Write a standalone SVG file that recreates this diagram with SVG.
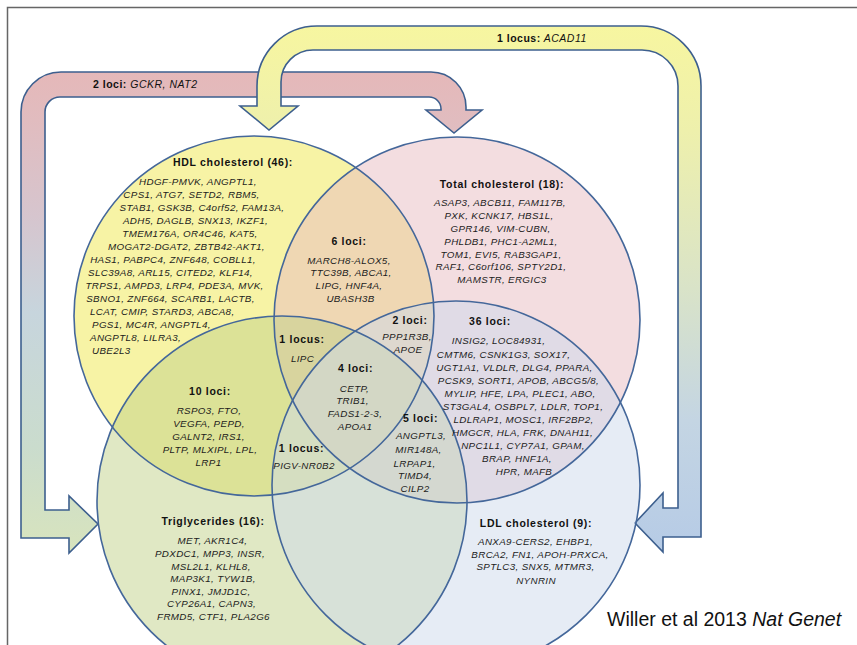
<svg xmlns="http://www.w3.org/2000/svg" width="857" height="645" viewBox="0 0 857 645">
<defs>
<linearGradient id="gPink" gradientUnits="userSpaceOnUse" x1="0" y1="72" x2="0" y2="553">
<stop offset="0" stop-color="#e5b8b9"/>
<stop offset="0.1" stop-color="#e1bcbf"/>
<stop offset="0.3" stop-color="#d6c5ce"/>
<stop offset="0.5" stop-color="#c7d5dd"/>
<stop offset="0.78" stop-color="#cadccd"/>
<stop offset="1" stop-color="#d8e4bd"/>
</linearGradient>
<linearGradient id="gYellow" gradientUnits="userSpaceOnUse" x1="0" y1="26" x2="0" y2="552">
<stop offset="0" stop-color="#f7f6a0"/>
<stop offset="0.2" stop-color="#eef0ac"/>
<stop offset="0.5" stop-color="#d9e3c8"/>
<stop offset="0.75" stop-color="#c4d5e3"/>
<stop offset="1" stop-color="#b6cbe6"/>
</linearGradient>
<style>
.arrow { stroke: #3d5f8e; stroke-width: 1.6; stroke-linejoin: miter; }
.fill { fill-opacity: 0.5; stroke: none; }
.outline { fill: none; stroke: #44679a; stroke-width: 1.6; }
.t { font-family: "Liberation Sans", Arial, sans-serif; font-weight: bold; font-size: 10.5px; letter-spacing: 0.7px; text-anchor: middle; fill: #111; }
.g { font-family: "Liberation Sans", Arial, sans-serif; font-style: italic; font-size: 9.8px; letter-spacing: 0.35px; text-anchor: middle; fill: #1c1c1c; }
.gs { text-anchor: start; }
.al { font-family: "Liberation Sans", Arial, sans-serif; font-size: 10.5px; letter-spacing: 0.5px; fill: #111; }
.b { font-weight: bold; }
.i { font-style: italic; }
</style>
</defs>
<rect x="0" y="0" width="857" height="645" fill="#ffffff"/>
<path d="M 7.5,645 V 7.5 H 857" fill="none" stroke="#666" stroke-width="1.5"/>

<g id="connectors">
<g id="arrow-gckr-nat2">
<path class="arrow" fill="url(#gPink)" d="M 21,538 L 69,538 L 69,553 L 98,524 L 69,496 L 69,510 L 45,510 L 45,112 A 15 15 0 0 1 60,97 L 429,97 A 12 12 0 0 1 441,109 L 441,110 L 426,110 L 454,133 L 482,110 L 466,110 L 466,107 A 35 35 0 0 0 431,72 L 61,72 A 40 40 0 0 0 21,112 Z"/>
<text class="al" x="93" y="88"><tspan class="b">2 loci:</tspan><tspan class="i"> GCKR, NAT2</tspan></text>
</g>
<g id="arrow-acad11">
<path class="arrow" fill="url(#gYellow)" d="M 701,537 L 663,537 L 663,552 L 635,523 L 663,493 L 663,508 L 678,508 L 678,86 A 36 36 0 0 0 642,50 L 313,50 A 32 32 0 0 0 281,82 L 281,106 L 298,106 L 269,130 L 240,106 L 257,106 L 257,86 A 60 60 0 0 1 317,26 L 641,26 A 60 60 0 0 1 701,86 Z"/>
<text class="al" x="497" y="42"><tspan class="b">1 locus:</tspan><tspan class="i"> ACAD11</tspan></text>
</g>
</g>

<g id="venn-fills">
<circle class="fill" cx="254" cy="316" r="180" fill="#efe74b"/>
<circle class="fill" cx="457" cy="320" r="183" fill="#e7bbc1"/>
<circle class="fill" cx="282" cy="501" r="185" fill="#c1d189"/>
<circle class="fill" cx="456" cy="485" r="184" fill="#cdd9eb"/>
</g>

<g id="node-hdl">
<circle class="outline" cx="254" cy="316" r="180"/>
<text class="t" x="233" y="166">HDL cholesterol (46):</text>
<text class="g" x="198" y="185">HDGF-PMVK, ANGPTL1,</text>
<text class="g" x="191.5" y="198">CPS1, ATG7, SETD2, RBM5,</text>
<text class="g" x="202" y="211">STAB1, GSK3B, C4orf52, FAM13A,</text>
<text class="g" x="195.5" y="224">ADH5, DAGLB, SNX13, IKZF1,</text>
<text class="g" x="190" y="237">TMEM176A, OR4C46, KAT5,</text>
<text class="g" x="186.5" y="250">MOGAT2-DGAT2, ZBTB42-AKT1,</text>
<text class="g" x="173" y="263">HAS1, PABPC4, ZNF648, COBLL1,</text>
<text class="g" x="170.5" y="276">SLC39A8, ARL15, CITED2, KLF14,</text>
<text class="g" x="174.5" y="289">TRPS1, AMPD3, LRP4, PDE3A, MVK,</text>
<text class="g" x="170.5" y="302">SBNO1, ZNF664, SCARB1, LACTB,</text>
<text class="g gs" x="90" y="315">LCAT, CMIP, STARD3, ABCA8,</text>
<text class="g gs" x="92" y="328">PGS1, MC4R, ANGPTL4,</text>
<text class="g gs" x="90" y="341">ANGPTL8, LILRA3,</text>
<text class="g gs" x="92" y="354">UBE2L3</text>
</g>

<g id="node-tc">
<circle class="outline" cx="457" cy="320" r="183"/>
<text class="t" x="502" y="188">Total cholesterol (18):</text>
<text class="g" x="500" y="206">ASAP3, ABCB11, FAM117B,</text>
<text class="g" x="499" y="219">PXK, KCNK17, HBS1L,</text>
<text class="g" x="500.5" y="232">GPR146, VIM-CUBN,</text>
<text class="g" x="501" y="245">PHLDB1, PHC1-A2ML1,</text>
<text class="g" x="501" y="257.5">TOM1, EVI5, RAB3GAP1,</text>
<text class="g" x="501" y="270">RAF1, C6orf106, SPTY2D1,</text>
<text class="g" x="502" y="283">MAMSTR, ERGIC3</text>
</g>

<g id="node-tg">
<circle class="outline" cx="282" cy="501" r="185"/>
<text class="t" x="213" y="524.5">Triglycerides (16):</text>
<text class="g" x="212.5" y="544">MET, AKR1C4,</text>
<text class="g" x="210" y="557">PDXDC1, MPP3, INSR,</text>
<text class="g" x="211" y="569.5">MSL2L1, KLHL8,</text>
<text class="g" x="213" y="582">MAP3K1, TYW1B,</text>
<text class="g" x="211" y="594.5">PINX1, JMJD1C,</text>
<text class="g" x="211.5" y="607">CYP26A1, CAPN3,</text>
<text class="g" x="213.5" y="620">FRMD5, CTF1, PLA2G6</text>
</g>

<g id="node-ldl">
<circle class="outline" cx="456" cy="485" r="184"/>
<text class="t" x="536" y="526.5">LDL cholesterol (9):</text>
<text class="g" x="535.5" y="545">ANXA9-CERS2, EHBP1,</text>
<text class="g" x="540" y="557.5">BRCA2, FN1, APOH-PRXCA,</text>
<text class="g" x="535.5" y="570">SPTLC3, SNX5, MTMR3,</text>
<text class="g" x="536" y="583.5">NYNRIN</text>
</g>

<g id="overlap-hdl-tc">
<text class="t" x="349" y="244.5">6 loci:</text>
<text class="g" x="349" y="263.5">MARCH8-ALOX5,</text>
<text class="g" x="351" y="276">TTC39B, ABCA1,</text>
<text class="g" x="349" y="289">LIPG, HNF4A,</text>
<text class="g" x="350.5" y="302">UBASH3B</text>
</g>

<g id="overlap-hdl-tc-tg">
<text class="t" x="302" y="343">1 locus:</text>
<text class="g" x="302.5" y="362">LIPC</text>
</g>

<g id="overlap-hdl-tc-ldl">
<text class="t" x="410" y="324">2 loci:</text>
<text class="g" x="407" y="339.5">PPP1R3B,</text>
<text class="g" x="408" y="353">APOE</text>
</g>

<g id="overlap-tc-ldl">
<text class="t" x="490" y="324.5">36 loci:</text>
<text class="g" x="498.5" y="344">INSIG2, LOC84931,</text>
<text class="g" x="503.5" y="357.5">CMTM6, CSNK1G3, SOX17,</text>
<text class="g" x="514.5" y="370.5">UGT1A1, VLDLR, DLG4, PPARA,</text>
<text class="g" x="518.5" y="383.5">PCSK9, SORT1, APOB, ABCG5/8,</text>
<text class="g" x="520" y="396.5">MYLIP, HFE, LPA, PLEC1, ABO,</text>
<text class="g" x="523" y="409.5">ST3GAL4, OSBPL7, LDLR, TOP1,</text>
<text class="g" x="523.5" y="422.5">LDLRAP1, MOSC1, IRF2BP2,</text>
<text class="g" x="522.5" y="435.5">HMGCR, HLA, FRK, DNAH11,</text>
<text class="g" x="523" y="448.5">NPC1L1, CYP7A1, GPAM,</text>
<text class="g" x="517" y="461.5">BRAP, HNF1A,</text>
<text class="g" x="524" y="474.5">HPR, MAFB</text>
</g>

<g id="overlap-all">
<text class="t" x="355.5" y="372">4 loci:</text>
<text class="g" x="354.5" y="392">CETP,</text>
<text class="g" x="352.5" y="404">TRIB1,</text>
<text class="g" x="355" y="417">FADS1-2-3,</text>
<text class="g" x="355" y="430">APOA1</text>
</g>

<g id="overlap-hdl-tg">
<text class="t" x="210" y="394.5">10 loci:</text>
<text class="g" x="209" y="413.5">RSPO3, FTO,</text>
<text class="g" x="209" y="426.5">VEGFA, PEPD,</text>
<text class="g" x="208.5" y="439.5">GALNT2, IRS1,</text>
<text class="g" x="210" y="452.5">PLTP, MLXIPL, LPL,</text>
<text class="g" x="208.5" y="465.5">LRP1</text>
</g>

<g id="overlap-hdl-tg-ldl">
<text class="t" x="301.5" y="452">1 locus:</text>
<text class="g" x="304" y="468.5">PIGV-NR0B2</text>
</g>

<g id="overlap-tc-tg-ldl">
<text class="t" x="420.5" y="422">5 loci:</text>
<text class="g" x="421" y="438.5">ANGPTL3,</text>
<text class="g" x="418.5" y="453">MIR148A,</text>
<text class="g" x="414.5" y="466.5">LRPAP1,</text>
<text class="g" x="415" y="479">TIMD4,</text>
<text class="g" x="415" y="492">CILP2</text>
</g>

<text x="607" y="626" font-family="'Liberation Sans', Arial, sans-serif" font-size="19.5" fill="#111">Willer et al 2013 <tspan font-style="italic">Nat Genet</tspan></text>
</svg>
